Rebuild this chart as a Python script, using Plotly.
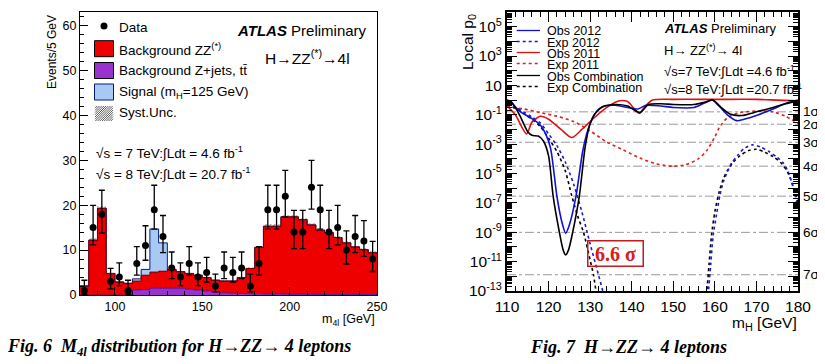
import math
import plotly.graph_objects as go

W, H = 825, 364
OFF = 8  # page body margin of the browser

# ---------------- Left panel data (m4l histogram, 5 GeV bins, 80-250 GeV) ----------------
bin_edges = list(range(80, 255, 5))
bin_centers = [e + 2.5 for e in bin_edges[:-1]]
data_counts = [1, 15, 18, 3, 4, 1, 7, 11, 19, 13, 6, 4, 7, 4, 5, 2, 6, 5, 6, 2, 7,
               19, 19, 22, 14, 14, 24, 19, 14, 15, 10, 13, 12, 8]
bkg_zjets = [0, 0, 0, 0, 0, 0, 1.1, 1.2, 1.5, 1.5, 1.5, 1.5, 1.3, 1.1, 0.9, 0.7, 0.5, 0.4,
             0.35, 0.3, 0.25, 0.2, 0.2, 0.2, 0.15, 0.15, 0.15, 0.1, 0.1, 0.1, 0.1, 0.1, 0.1, 0.1]
bkg_zz = [2.0, 12.2, 19.3, 4.8, 2.9, 2.6, 2.0, 3.2, 3.6, 3.8, 4.2, 3.7, 3.5, 3.3, 3.0, 2.6,
          2.6, 2.7, 3.55, 5.6, 10.35, 15.1, 15.1, 17.2, 17.25, 16.65, 15.45, 14.3, 13.8,
          12.7, 11.5, 10.6, 10.0, 9.3]
signal = [0, 0, 0, 0, 0, 0, 0.5, 1.3, 9.6, 6.3, 0, 0, 0, 0, 0, 0, 0, 0, 0, 0, 0,
          0, 0, 0, 0, 0, 0, 0, 0, 0, 0, 0, 0, 0]
syst_unc = [0.15, 0.4, 0.5, 0.2, 0.15, 0.15, 0.15, 0.15, 0.2, 0.2, 0.2, 0.2, 0.2, 0.15, 0.15,
            0.15, 0.15, 0.15, 0.15, 0.25, 0.35, 0.4, 0.4, 0.45, 0.45, 0.45, 0.4, 0.4, 0.35,
            0.35, 0.35, 0.3, 0.3, 0.3]

obs2012_m = [110, 111, 112, 113.5, 115, 116.5, 118, 119.3, 120.5, 122, 123.2, 124.1, 125,
             126.6, 128.2, 129.5, 131, 133, 136, 139, 141.5, 143.5, 147, 150, 155, 157.5,
             159.5, 161, 163, 165.3, 167, 170, 174, 177.3, 180]
obs2012_lp = [0, -0.1, -0.45, -0.85, -1.1, -1.35, -1.7, -2.3, -3.3, -6.54, -8.3, -9.06, -8.5,
              -6.54, -3.5, -2.0, -1.0, -0.45, -0.35, -0.5, -0.6, -0.35, -0.4, -0.5, -0.5,
              -0.2, 0.0, -0.4, -1.0, -1.4, -1.3, -1.05, -0.6, -0.2, 0.0]

exp2012_m = [110, 112, 114, 116, 118, 120, 122, 124, 126, 128, 130, 132, 133.2, 134, None,
             157.8, 158.4, 159, 159.6, 160.4, 161.2, 162, 163, 164, 165.5, 167, 169, 171,
             173, 175, 176.5, 177.5, 178.5, 179.3, 180]
exp2012_lp = [-0.3, -0.5, -0.8, -1.15, -1.55, -2.3, -3.1, -4.2, -5.7, -7.6, -9.8, -11.9,
              -13.2, -14.5, None, -14.5, -13.2, -11.2, -9.2, -7.8, -6.5, -5.6, -4.9, -4.3,
              -3.75, -3.3, -3.05, -3.2, -3.5, -3.9, -4.3, -4.8, -5.6, -6.5, -7.4]

obs2011_m = [110, 112, 114.7, 116, 118, 120, 123, 125.6, 128, 131, 134, 137, 139, 141.8,
             143, 145, 150, 160, 170, 175, 180]
obs2011_lp = [-0.4, -1.0, -2.3, -1.5, -1.1, -1.3, -2.0, -2.55, -2.0, -1.2, -0.5, -0.05,
              -0.1, -0.9, -0.5, 0.0, 0.05, 0.05, 0.05, 0.0, -0.05]

exp2011_m = [110, 114, 118, 122, 126, 130, 134, 138, 142, 146, 150, 153, 156, 158, 160,
             161, 163, 166, 170, 174, 177, 180]
exp2011_lp = [-0.45, -0.6, -0.85, -1.1, -1.45, -2.1, -2.85, -3.4, -3.95, -4.35, -4.5, -4.4,
              -4.0, -3.45, -2.5, -1.9, -1.2, -0.85, -0.75, -0.8, -1.1, -1.6]

obscomb_m = [110, 111, 112, 113, 114, 115, 116, 117.5, 118.8, 120, 121.1, 122.6, 123.5, 124.1,
             124.8, 125.8, 127.4, 128.8, 130, 131.5, 133, 136, 139, 142, 144, 147, 150, 155,
             157.5, 159.5, 161.5, 163.6, 166.5, 170, 174, 177, 180]
obscomb_lp = [0, -0.15, -0.5, -1.0, -1.6, -2.15, -2.4, -2.45, -2.8, -3.8, -6.54, -9.0, -10.2,
              -10.55, -10.2, -9.0, -6.54, -3.2, -1.6, -0.8, -0.45, -0.3, -0.4, -0.85, -0.3,
              -0.25, -0.3, -0.3, -0.15, 0.0, -0.5, -0.95, -1.05, -0.8, -0.5, -0.25, -0.05]

expcomb_m = [110, 112, 114, 116, 118, 120, 122, 124, 125.6, 127, 128.4, 130, 130.8, 131.5,
             132.2, None, 157.4, 158, 158.6, 159.2, 160, 161, 162, 163, 164.5, 166, 168, 170,
             172, 174, 176, 177.5, 178.5, 179.3, 180]
expcomb_lp = [-0.3, -0.55, -0.9, -1.3, -1.8, -2.6, -3.5, -4.8, -6.54, -7.9, -9.0, -10.9,
              -11.9, -13.2, -14.5, None, -14.5, -13.2, -11.2, -9.2, -7.6, -6.3, -5.4, -4.8,
              -4.2, -3.8, -3.45, -3.35, -3.55, -3.85, -4.3, -4.9, -5.6, -6.3, -7.0]

sigma_levels = [1, 2, 3, 4, 5, 6, 7]
right_y_ticks = list(range(-13, 6))


def px(x):
    return (x - OFF) / W


def py(y):
    return 1 - (y - OFF) / H


LEFT_DOM_X = [px(80), px(377)]
LEFT_DOM_Y = [py(295), py(12)]
RIGHT_DOM_X = [px(507), px(798)]
RIGHT_DOM_Y = [py(291), py(12)]

RED = '#ee0000'
PURPLE = '#9a32cd'
LBLUE = '#a9c9f5'
NAVY = '#0a1a6e'
SANS = 'Liberation Sans, Arial, sans-serif'
SERIF = 'Liberation Serif, Times New Roman, serif'

fig = go.Figure()

# ---- Left histogram ----
tot_bkg = [a + b for a, b in zip(bkg_zjets, bkg_zz)]
fig.add_trace(go.Bar(x=bin_centers, y=bkg_zz, base=bkg_zjets, width=5,
                     marker=dict(color=RED, line_width=0), xaxis='x', yaxis='y'))
fig.add_trace(go.Bar(x=bin_centers, y=bkg_zjets, base=[0] * len(bin_centers), width=5,
                     marker=dict(color=PURPLE, line_width=0), xaxis='x', yaxis='y'))
fig.add_trace(go.Bar(x=bin_centers, y=[2 * u for u in syst_unc],
                     base=[t - u for t, u in zip(tot_bkg, syst_unc)], width=5,
                     marker=dict(color='rgba(0,0,0,0)', line_width=0,
                                 pattern=dict(shape='/', fgcolor='#333333', bgcolor='rgba(0,0,0,0)',
                                              size=3, solidity=0.35, fillmode='overlay')),
                     xaxis='x', yaxis='y'))
fig.add_trace(go.Bar(x=bin_centers, y=signal, base=tot_bkg, width=5,
                     marker=dict(color=LBLUE, line_width=0), xaxis='x', yaxis='y'))
# step outlines
sig_top = [t + s for t, s in zip(tot_bkg, signal)]
fig.add_trace(go.Scatter(x=bin_edges, y=sig_top + [sig_top[-1]], mode='lines',
                         line=dict(color=NAVY, width=1, shape='hv'), xaxis='x', yaxis='y'))
fig.add_trace(go.Scatter(x=bin_edges, y=tot_bkg + [tot_bkg[-1]], mode='lines',
                         line=dict(color='#7a0000', width=1, shape='hv'), xaxis='x', yaxis='y'))
fig.add_trace(go.Scatter(x=bin_edges, y=bkg_zjets + [bkg_zjets[-1]], mode='lines',
                         line=dict(color='#5a1080', width=0.8, shape='hv'), xaxis='x', yaxis='y'))

# data with Poisson (Wilson-Hilferty) error bars
err_up, err_dn = [], []
for n in data_counts:
    up = (n + 1) * (1 - 1 / (9 * (n + 1)) + 1 / (3 * math.sqrt(n + 1))) ** 3
    dn = n * (1 - 1 / (9 * n) - 1 / (3 * math.sqrt(n))) ** 3 if n > 0 else 0
    err_up.append(up - n)
    err_dn.append(n - dn)
fig.add_trace(go.Scatter(x=bin_centers, y=data_counts, mode='markers',
                         marker=dict(color='black', size=7),
                         error_y=dict(type='data', symmetric=False, array=err_up,
                                      arrayminus=err_dn, color='black', thickness=1.3, width=3),
                         xaxis='x', yaxis='y'))

# ---- Right p0 plot ----
for n in sigma_levels:
    p = 0.5 * math.erfc(n / math.sqrt(2))
    fig.add_trace(go.Scatter(x=[110, 180], y=[p, p], mode='lines',
                             line=dict(color='#9a9a9a', width=1, dash='dashdot'),
                             xaxis='x2', yaxis='y2'))


def to_p(vals):
    return [None if v is None else 10 ** v for v in vals]


curves = [
    (exp2011_m, exp2011_lp, '#e02020', 'dot'),
    (expcomb_m, expcomb_lp, '#000000', 'dot'),
    (exp2012_m, exp2012_lp, '#1a1ad0', 'dot'),
    (obs2011_m, obs2011_lp, '#e01010', 'solid'),
    (obs2012_m, obs2012_lp, '#1010d8', 'solid'),
    (obscomb_m, obscomb_lp, '#000000', 'solid'),
]
for m, lp, col, dash in curves:
    fig.add_trace(go.Scatter(x=m, y=to_p(lp), mode='lines', connectgaps=False,
                             line=dict(color=col, width=1.6, dash=dash, shape='spline',
                                       smoothing=0.7),
                             xaxis='x2', yaxis='y2'))

shapes = []
ann = []


def text(x, y, s, size, xanchor='left', font=SANS, color='black', yanchor='middle', **kw):
    ann.append(dict(x=px(x), y=py(y), xref='paper', yref='paper', text=s, showarrow=False,
                    xanchor=xanchor, yanchor=yanchor,
                    font=dict(family=font, size=size, color=color), **kw))


# Left legend
shapes.append(dict(type='circle', xref='paper', yref='paper', x0=px(100.5), x1=px(107.5),
                   y0=py(29.5), y1=py(22.5), fillcolor='black', line=dict(width=0)))
text(117, 27, 'Data', 13.5)
for (y0, y1, col, lc, lab) in [
    (40.7, 56.7, RED, 'black', 'Background ZZ<sup>(*)</sup>'),
    (62.5, 78.5, PURPLE, 'black', 'Background Z+jets, tt\u0304'),
    (84, 100, LBLUE, NAVY, 'Signal (m<sub>H</sub>=125 GeV)'),
]:
    shapes.append(dict(type='rect', xref='paper', yref='paper', x0=px(94.5), x1=px(113.5),
                       y0=py(y1), y1=py(y0), fillcolor=col, line=dict(color=lc, width=1)))
    text(117, (y0 + y1) / 2, lab, 13.5)
# hatched legend box (95..113, 106..121)
hx0, hx1, hy0, hy1 = 95.0, 113.0, 106.0, 121.0
d = -(hy1 - hy0)
while d < (hx1 - hx0):
    xa, ya = hx0 + d, hy1
    xb, yb = hx0 + d + (hy1 - hy0), hy0
    if xa < hx0:
        ya -= (hx0 - xa)
        xa = hx0
    if xb > hx1:
        yb += (xb - hx1)
        xb = hx1
    if xb > xa:
        shapes.append(dict(type='line', xref='paper', yref='paper', x0=px(xa), y0=py(ya),
                           x1=px(xb), y1=py(yb), line=dict(color='#333333', width=0.8)))
    d += 2.2
text(117, 113, 'Syst.Unc.', 13.5)

text(235, 30, '<b><i>ATLAS</i></b> Preliminary', 15)
text(263, 57, 'H\u2192ZZ<sup>(*)</sup>\u21924l', 15.5)
text(94, 152, '\u221as = 7 TeV:\u222bLdt = 4.6 fb<sup>-1</sup>', 13.5)
text(94, 173, '\u221as = 8 TeV:\u222bLdt = 20.7 fb<sup>-1</sup>', 13.5)
text(377, 320, 'm<sub>4l</sub> [GeV]', 12.5, xanchor='right')
ann.append(dict(x=px(52), y=py(13), xref='paper', yref='paper', text='Events/5 GeV',
                showarrow=False, textangle=-90, xanchor='center', yanchor='top',
                font=dict(family=SANS, size=12, color='black')))

# Right legend
leg_items = [('Obs 2012', '#1010d8', 'solid', 30.5), ('Exp 2012', '#1a1ad0', 'dot', 41.5),
             ('Obs 2011', '#e01010', 'solid', 52.5), ('Exp 2011', '#e02020', 'dot', 63.5),
             ('Obs Combination', 'black', 'solid', 75.5), ('Exp Combination', 'black', 'dot', 86.5)]
for lab, col, dash, y in leg_items:
    shapes.append(dict(type='line', xref='paper', yref='paper', x0=px(516.7), x1=px(540),
                       y0=py(y), y1=py(y), line=dict(color=col, width=1.3, dash=dash)))
    text(545, y + 1, lab, 12.5)

text(662, 28, '<b><i>ATLAS</i></b> Preliminary', 13)
text(662, 50, 'H\u2192 ZZ<sup>(*)</sup>\u2192 4l', 13)
text(662, 71, '\u221as=7 TeV:\u222bLdt =4.6 fb<sup>-1</sup>', 13)
text(662, 89, '\u221as=8 TeV:\u222bLdt =20.7 fb<sup>-1</sup>', 13)
text(799, 323, 'm<sub>H</sub> [GeV]', 15.5, xanchor='right')
ann.append(dict(x=px(469), y=py(12), xref='paper', yref='paper', text='Local p<sub>0</sub>',
                showarrow=False, textangle=-90, xanchor='center', yanchor='top',
                font=dict(family=SANS, size=15.5, color='black')))

for n in sigma_levels:
    p = 0.5 * math.erfc(n / math.sqrt(2))
    ann.append(dict(x=px(801), y=math.log10(p), xref='paper', yref='y2',
                    text=f'{n}\u03c3', showarrow=False, xanchor='left', yanchor='middle',
                    font=dict(family=SANS, size=13.5, color='black')))

ann.append(dict(x=136, y=-10.45, xref='x2', yref='y2', text='<b>6.6 \u03c3</b>',
                showarrow=False, width=52, height=22, borderpad=1, bordercolor='#c41a1a',
                borderwidth=1.5, font=dict(family=SERIF, size=20, color='#d42020')))

# Captions
text(5, 347, '<b><i>Fig. 6  M<sub>4l</sub> distribution for H\u2192ZZ\u2192 4 leptons</i></b>', 18,
     font=SERIF)
text(528, 347, '<b><i>Fig. 7  H\u2192ZZ\u2192 4 leptons</i></b>', 18, font=SERIF)

r_tickvals = [10 ** k for k in right_y_ticks]
r_ticktext = []
for k in right_y_ticks:
    if (k % 2) == 0:
        r_ticktext.append('')
    elif k == 1:
        r_ticktext.append('10')
    else:
        r_ticktext.append(f'10<sup>{k}</sup>')

fig.update_layout(
    width=W, height=H, margin=dict(l=0, r=0, t=0, b=0, autoexpand=False),
    paper_bgcolor='white', plot_bgcolor='white', showlegend=False, barmode='overlay',
    bargap=0,
    xaxis=dict(domain=LEFT_DOM_X, range=[80, 250], tickvals=[100, 150, 200, 250],
               ticks='inside', ticklen=8, tickcolor='black', showline=True, linecolor='black',
               linewidth=1, mirror=True, showgrid=False, zeroline=False, automargin=False,
               tickfont=dict(family=SANS, size=12.5, color='black'),
               minor=dict(ticks='inside', ticklen=4, dtick=10, tick0=80, tickcolor='black'),
               anchor='y'),
    yaxis=dict(domain=LEFT_DOM_Y, range=[0, 63], dtick=10, ticks='inside', ticklen=8,
               tickcolor='black', showline=True, linecolor='black', linewidth=1, mirror=True,
               showgrid=False, zeroline=False, automargin=False,
               tickfont=dict(family=SANS, size=12.5, color='black'),
               minor=dict(ticks='inside', ticklen=4, dtick=2, tickcolor='black'),
               anchor='x'),
    xaxis2=dict(domain=RIGHT_DOM_X, range=[110, 180], dtick=10, ticks='inside', ticklen=10,
                tickcolor='black', showline=True, linecolor='black', linewidth=2,
                mirror='allticks', showgrid=False, zeroline=False, automargin=False,
                tickfont=dict(family=SANS, size=15.5, color='black'),
                minor=dict(ticks='inside', ticklen=5, dtick=2, tickcolor='black'),
                anchor='y2'),
    yaxis2=dict(domain=RIGHT_DOM_Y, type='log', range=[-13, 6], tickmode='array',
                tickvals=r_tickvals, ticktext=r_ticktext, ticks='inside', ticklen=10,
                tickcolor='black', showline=True, linecolor='black', linewidth=2,
                mirror='allticks', showgrid=False, zeroline=False, automargin=False,
                tickfont=dict(family=SANS, size=15.5, color='black'),
                minor=dict(ticks='inside', ticklen=5, dtick='D1', tickcolor='black'),
                anchor='x2'),
    shapes=shapes, annotations=ann,
)

fig.write_html('out.html')
